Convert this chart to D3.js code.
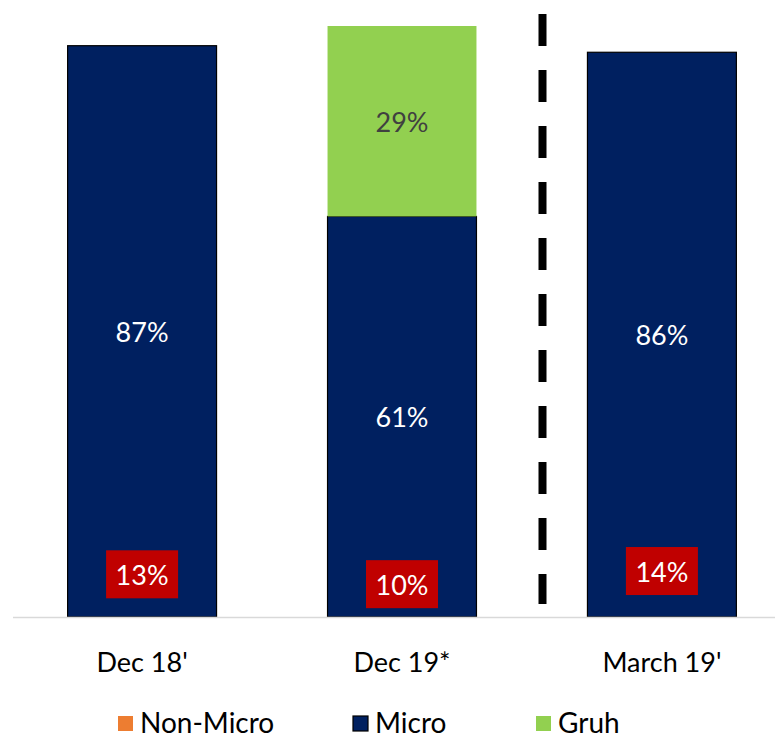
<!DOCTYPE html>
<html>
<head>
<meta charset="utf-8">
<script src="https://cdn.jsdelivr.net/npm/d3@7"></script>
<style>
  html, body { margin: 0; padding: 0; background: #fff; }
  svg { display: block; font-family: Lato, "Open Sans", sans-serif; }
</style>
</head>
<body>
<svg id="chart" width="775" height="738"></svg>
<script>
// Portfolio mix by period
const categories = ["Dec 18'", "Dec 19*", "March 19'"];
const nonMicro = [0.13, 0.10, 0.14];
const micro    = [0.87, 0.61, 0.86];
const gruh     = [0, 0.29, 0];
const seriesNames = ["Non-Micro", "Micro", "Gruh"];
const seriesColors = ["#ED7D31", "#002060", "#92D050"];

const svg = d3.select("#chart");
const baseY = 617;

const x = d3.scaleBand().domain(categories).range([12, 792]).paddingInner(0.427).paddingOuter(0.214);
const y = d3.scaleLinear().domain([0, 0.9]).range([baseY, 26]);

const rows = categories.map((c, i) => ({ cat: c, nonMicro: nonMicro[i], micro: micro[i], gruh: gruh[i] }));

// Micro bars start at zero and cover the Non-Micro share; Gruh stacks above Micro
const gBars = svg.append("g");
gBars.selectAll("rect.nonmicro").data(rows).join("rect")
  .attr("class", "nonmicro")
  .attr("x", d => x(d.cat)).attr("width", x.bandwidth())
  .attr("y", d => y(d.nonMicro)).attr("height", d => baseY - y(d.nonMicro))
  .attr("fill", seriesColors[0]);

gBars.selectAll("rect.micro").data(rows).join("rect")
  .attr("class", "micro")
  .attr("x", d => x(d.cat)).attr("width", x.bandwidth())
  .attr("y", d => y(d.micro)).attr("height", d => baseY - y(d.micro))
  .attr("fill", seriesColors[1]).attr("stroke", "#000").attr("stroke-width", 1.2);

gBars.selectAll("rect.gruh").data(rows.filter(d => d.gruh > 0)).join("rect")
  .attr("class", "gruh")
  .attr("x", d => x(d.cat)).attr("width", x.bandwidth())
  .attr("y", d => y(d.micro + d.gruh)).attr("height", d => y(d.micro) - y(d.micro + d.gruh))
  .attr("fill", seriesColors[2]);

// Baseline
svg.append("line")
  .attr("x1", 13).attr("x2", 775).attr("y1", baseY + 0.5).attr("y2", baseY + 0.5)
  .attr("stroke", "#d9d9d9").attr("stroke-width", 1.5);

// Divider between the periods
svg.append("line")
  .attr("x1", 542.5).attr("x2", 542.5).attr("y1", 14).attr("y2", 604)
  .attr("stroke", "#000").attr("stroke-width", 8)
  .attr("stroke-dasharray", "32 24");

const pct = v => Math.round(v * 100) + "%";
const cx = d => x(d.cat) + x.bandwidth() / 2;

// Micro labels
svg.selectAll("text.micro").data(rows).join("text")
  .attr("class", "micro")
  .attr("x", cx).attr("y", d => y(d.micro / 2))
  .attr("text-anchor", "middle").attr("dominant-baseline", "central")
  .attr("font-size", 27).attr("fill", "#fff")
  .text(d => pct(d.micro));

// Gruh label
svg.selectAll("text.gruh").data(rows.filter(d => d.gruh > 0)).join("text")
  .attr("class", "gruh")
  .attr("x", cx).attr("y", d => y(d.micro + d.gruh / 2))
  .attr("text-anchor", "middle").attr("dominant-baseline", "central")
  .attr("font-size", 27).attr("fill", "#404040")
  .text(d => pct(d.gruh));

// Non-Micro labels in red boxes
const nm = svg.selectAll("g.nm").data(rows).join("g")
  .attr("class", "nm")
  .attr("transform", d => `translate(${cx(d)},${y(d.nonMicro / 2)})`);
nm.append("rect")
  .attr("x", -36).attr("y", -24).attr("width", 72).attr("height", 48)
  .attr("fill", "#C00000");
nm.append("text")
  .attr("text-anchor", "middle").attr("dominant-baseline", "central")
  .attr("font-size", 27).attr("fill", "#fff")
  .text(d => pct(d.nonMicro));

// Category axis labels
svg.selectAll("text.cat").data(categories).join("text")
  .attr("class", "cat")
  .attr("x", d => x(d) + x.bandwidth() / 2).attr("y", 661)
  .attr("text-anchor", "middle").attr("dominant-baseline", "central")
  .attr("font-size", 27).attr("fill", "#000")
  .text(d => d);

// Legend
const legendX = [118, 353, 536];
const lg = svg.selectAll("g.legend").data(seriesNames).join("g")
  .attr("class", "legend")
  .attr("transform", (d, i) => `translate(${legendX[i]},716)`);
lg.append("rect")
  .attr("width", 15).attr("height", 15)
  .attr("fill", (d, i) => seriesColors[i])
  .attr("stroke", (d, i) => i === 1 ? "#000" : "none").attr("stroke-width", 1.2);
lg.append("text")
  .attr("x", 22).attr("y", 6)
  .attr("dominant-baseline", "central")
  .attr("font-size", 28).attr("fill", "#000")
  .text(d => d);
</script>
</body>
</html>
